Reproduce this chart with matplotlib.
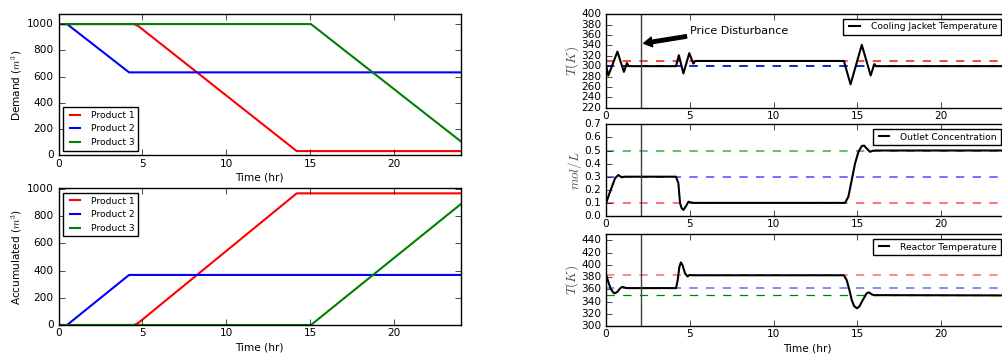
"""Production schedule demand/accumulation and reactor response plots."""

import matplotlib
matplotlib.use("Agg")
import matplotlib.pyplot as plt

# left panels: demand and accumulated product (piecewise linear)
p1_demand_t = [0, 4.5, 4.75, 14.2, 24]
p1_demand = [1000, 1000, 985, 32, 32]
p2_demand_t = [0, 0.5, 4.2, 24]
p2_demand = [1000, 1000, 632, 632]
p3_demand_t = [0, 15.05, 24]
p3_demand = [1000, 1000, 105]

p1_acc_t = [0, 4.5, 4.75, 14.2, 24]
p1_acc = [0, 0, 15, 968, 968]
p2_acc_t = [0, 0.5, 4.2, 24]
p2_acc = [0, 0, 368, 368]
p3_acc_t = [0, 15.05, 24]
p3_acc = [0, 0, 890]

# right panels: controller response
jacket_t = [0, 0.14, 0.68, 1.07, 1.25, 1.35, 4.18, 4.35, 4.62, 4.97, 5.21,
            5.33, 14.2, 14.6, 15.27, 15.8, 16.02, 16.12, 24]
jacket_T = [302, 282, 328, 289, 306, 300, 300, 321, 286, 325, 305,
            310, 310, 265, 341, 282, 304, 300, 300]
jacket_ref = [310, 300, 299.5]  # red, blue, green

conc_t = [0, 0.24, 0.54, 0.74, 0.94, 1.07, 4.18, 4.32, 4.42, 4.52, 4.62,
          4.78, 4.92, 5.05, 5.2, 14.27, 14.47, 14.67, 14.87, 15.07, 15.27,
          15.4, 15.56, 15.76, 15.92, 16.1, 24]
conc = [0.097, 0.185, 0.288, 0.313, 0.295, 0.3, 0.3, 0.25, 0.097, 0.059,
        0.046, 0.076, 0.109, 0.104, 0.1, 0.1, 0.147, 0.275, 0.402, 0.49,
        0.534, 0.538, 0.516, 0.49, 0.498, 0.5, 0.5]
conc_ref = [0.1, 0.3, 0.5]  # red, blue, green

reactor_t = [0, 0.14, 0.28, 0.44, 0.54, 0.68, 0.84, 0.97, 1.13, 1.25, 4.18,
             4.28, 4.38, 4.47, 4.56, 4.72, 4.87, 4.98, 5.1, 14.2, 14.37,
             14.53, 14.67, 14.81, 14.97, 15.12, 15.33, 15.56, 15.7, 15.86,
             16.0, 24]
reactor_T = [384, 372, 361, 354.5, 353.5, 356, 361.5, 364, 362.7, 362, 362,
             375, 397, 404, 400, 386, 381, 383.5, 383, 383, 375,
             359, 342.5, 332.7, 329, 331.6, 342.5, 353.5, 355, 351.8,
             350.5, 350]
reactor_ref = [383, 362, 350]  # red, blue, green

disturbance_t = 2.1

plt.style.use("classic")
plt.rcParams.update({
    "font.size": 7.6,
    "legend.fontsize": 6.6,
    "legend.handlelength": 1.7,
    "legend.handletextpad": 0.9,
    "figure.facecolor": "white",
    "savefig.facecolor": "white",
    "mathtext.fontset": "cm",
    "xtick.major.pad": 2.5,
    "ytick.major.pad": 3.5,
})

fig = plt.figure(figsize=(10.03, 3.56), dpi=100)

# ---- left column
ax1 = fig.add_axes([0.0585, 0.5638, 0.4011, 0.3962])
ax1.plot(p1_demand_t, p1_demand, "r", lw=1.5, label="Product 1")
ax1.plot(p2_demand_t, p2_demand, "b", lw=1.5, label="Product 2")
ax1.plot(p3_demand_t, p3_demand, "g", lw=1.5, label="Product 3")
ax1.set_xlim(0, 24)
ax1.set_ylim(0, 1075)
ax1.set_yticks(range(0, 1001, 200))
ax1.set_xlabel("Time (hr)", labelpad=3)
ax1.set_ylabel("Demand ($m^3$)", labelpad=2)
ax1.legend(loc="lower left")

ax2 = fig.add_axes([0.0585, 0.0871, 0.4011, 0.3839])
ax2.plot(p1_acc_t, p1_acc, "r", lw=1.5, label="Product 1")
ax2.plot(p2_acc_t, p2_acc, "b", lw=1.5, label="Product 2")
ax2.plot(p3_acc_t, p3_acc, "g", lw=1.5, label="Product 3")
ax2.set_xlim(0, 24)
ax2.set_ylim(0, 1005)
ax2.set_yticks(range(0, 1001, 200))
ax2.set_xlabel("Time (hr)", labelpad=3)
ax2.set_ylabel("Accumulated ($m^3$)", labelpad=2)
ax2.legend(loc="upper left")

# ---- right column
ref_colors = ["r", "b", "g"]
leg_anchor = (0.993, 1.0)

ax3 = fig.add_axes([0.6042, 0.6975, 0.4008, 0.2625])
for val, c in zip(jacket_ref[::-1], ref_colors[::-1]):
    ax3.axhline(val, color=c, ls="--", lw=1.3, alpha=0.8)
ax3.plot(jacket_t, jacket_T, "k", lw=1.5, label="Cooling Jacket Temperature")
ax3.axvline(disturbance_t, color="0.25", lw=1)
ax3.annotate("Price Disturbance", xy=(2.25, 344), xytext=(5.0, 368),
             fontsize=8, va="center",
             arrowprops=dict(facecolor="black", width=2.5, headwidth=7,
                             headlength=6, shrink=0.0))
ax3.set_xlim(0, 24)
ax3.set_ylim(220, 400)
ax3.set_yticks(range(220, 401, 20))
ax3.set_ylabel("$T(K)$", fontsize=9.5, labelpad=0, color="0.3")
ax3.legend(loc="upper right", bbox_to_anchor=leg_anchor)

ax4 = fig.add_axes([0.6042, 0.3933, 0.4008, 0.2575])
for val, c in zip(conc_ref, ref_colors):
    ax4.axhline(val, color=c, ls="--", lw=1.3, alpha=0.6)
ax4.plot(conc_t, conc, "k", lw=1.5, label="Outlet Concentration")
ax4.axvline(disturbance_t, color="0.25", lw=1)
ax4.set_xlim(0, 24)
ax4.set_ylim(0, 0.7)
ax4.set_ylabel("$mol/L$", fontsize=9.5, labelpad=0, color="0.3")
ax4.legend(loc="upper right", bbox_to_anchor=leg_anchor)

ax5 = fig.add_axes([0.6042, 0.0843, 0.4008, 0.2575])
for val, c, a, w in zip(reactor_ref, ref_colors, [0.5, 0.5, 1.0], [1.3, 1.3, 0.9]):
    ax5.axhline(val, color=c, ls="--", lw=w, alpha=a)
ax5.plot(reactor_t, reactor_T, "k", lw=1.5, label="Reactor Temperature")
ax5.axvline(disturbance_t, color="0.25", lw=1)
ax5.set_xlim(0, 24)
ax5.set_ylim(300, 450)
ax5.set_yticks(range(300, 441, 20))
ax5.set_xlabel("Time (hr)", labelpad=3)
ax5.set_ylabel("$T(K)$", fontsize=9.5, labelpad=0, color="0.3")
ax5.legend(loc="upper right", bbox_to_anchor=leg_anchor)

for ax in [ax1, ax2, ax3, ax4, ax5]:
    ax.set_xticks([0, 5, 10, 15, 20])

fig.savefig("out.png", dpi=100)
